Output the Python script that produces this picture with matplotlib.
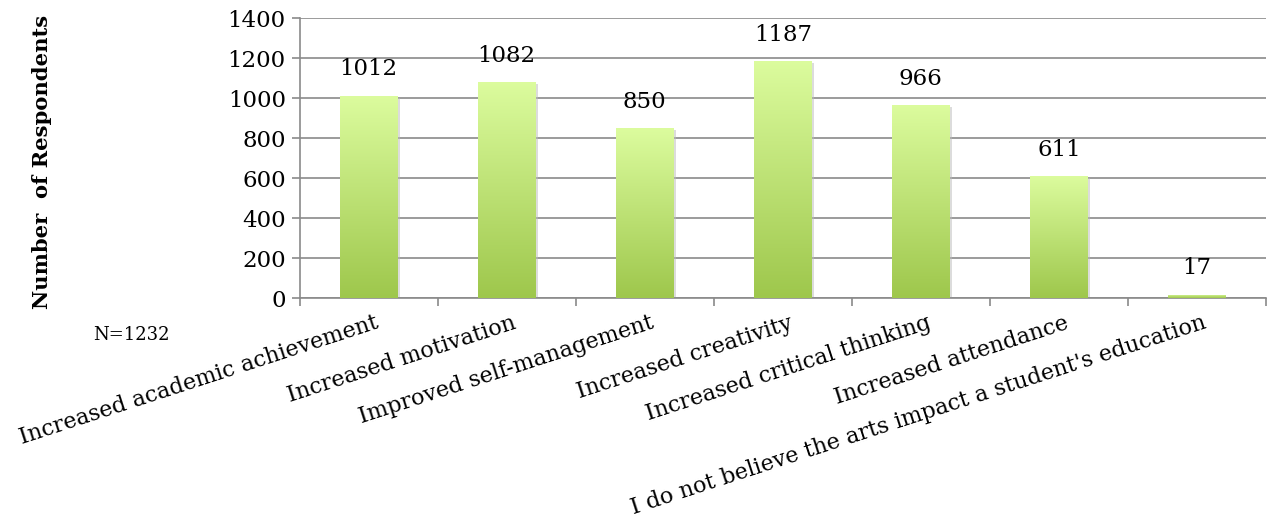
import numpy as np
import matplotlib.pyplot as plt
import matplotlib.patheffects as pe
from matplotlib.colors import LinearSegmentedColormap
from matplotlib.transforms import blended_transform_factory

categories = ["Increased academic achievement", "Increased motivation",
              "Improved self-management", "Increased creativity",
              "Increased critical thinking", "Increased attendance",
              "I do not believe the arts impact a student's education"]
respondents = [1012, 1082, 850, 1187, 966, 611, 17]
yticks = [0, 200, 400, 600, 800, 1000, 1200, 1400]

plt.rcParams['font.family'] = ['DejaVu Serif']
grey = '#8a8a8a'

fig = plt.figure(figsize=(12.75, 5.21), dpi=100)
ax = fig.add_axes([0.235, 0.428, 0.758, 0.537])

x = np.arange(len(categories))
bars = ax.bar(x, respondents, width=0.42, color='#a0c850', zorder=2,
              path_effects=[pe.SimplePatchShadow(offset=(1.5, -1.5), shadow_rgbFace='#bbbbbb', alpha=0.5),
                            pe.Normal()])

# vertical gradient inside each bar, light on top, darker at bottom
cmap = LinearSegmentedColormap.from_list('g', ['#9ec74c', '#dcfc9e'])
grad = np.linspace(0, 1, 256).reshape(-1, 1)
for b in bars:
    x0, w, h = b.get_x(), b.get_width(), b.get_height()
    im = ax.imshow(grad, cmap=cmap, origin='lower', aspect='auto',
                   extent=[x0, x0 + w, 0, h], zorder=3)
    im.set_clip_path(b)

for xi, v in zip(x, respondents):
    ax.annotate(str(v), (xi, v), xytext=(0, 11), textcoords='offset points',
                ha='center', va='bottom', fontsize=16.5, zorder=4)

ax.set_xlim(-0.5, len(categories) - 0.5)
ax.set_ylim(0, 1400)
ax.set_yticks(yticks)
ax.tick_params(axis='y', labelsize=16.5, length=6, color=grey, width=1.2, pad=4)
ax.set_xticks(np.arange(len(categories) + 1) - 0.5)
ax.set_xticklabels([])
ax.tick_params(axis='x', length=6, color=grey, width=1.2)
ax.yaxis.grid(True, color=grey, linewidth=1.2, zorder=0)
ax.set_axisbelow(True)
for s in ['top', 'right']:
    ax.spines[s].set_visible(False)
for s in ['left', 'bottom']:
    ax.spines[s].set_color(grey)
    ax.spines[s].set_linewidth(1.2)

trans = blended_transform_factory(ax.transData, ax.transAxes)
for xi, lab in zip(x, categories):
    ax.text(xi + 0.04, -0.05, lab, transform=trans, rotation=18,
            rotation_mode='anchor', ha='right', va='top', fontsize=16)

fig.text(0.033, 0.69, 'Number  of Respondents', rotation=90, ha='center',
         va='center', fontsize=15.2, fontweight='bold')
fig.text(0.103, 0.357, 'N=1232', ha='center', va='center', fontsize=13)

fig.savefig('out.png', dpi=100)
